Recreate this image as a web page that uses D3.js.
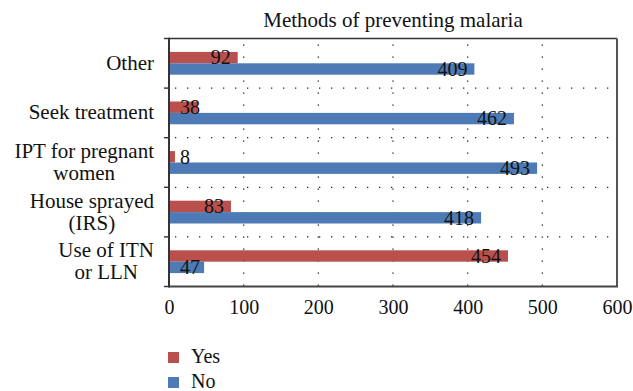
<!DOCTYPE html>
<html>
<head>
<meta charset="utf-8">
<script src="https://cdn.jsdelivr.net/npm/d3@7"></script>
<style>
  html, body { margin: 0; padding: 0; background: #fff; }
  svg { display: block; }
  text { font-family: "Liberation Serif", "Times New Roman", serif; fill: #111; }
</style>
</head>
<body>
<svg id="chart" width="633" height="391"></svg>
<script>
// Survey responses per prevention method
const categories = ["Other", "Seek treatment", "IPT for pregnant\nwomen", "House sprayed\n(IRS)", "Use of ITN\nor LLN"];
const yesValues = [92, 38, 8, 83, 454];
const noValues = [409, 462, 493, 418, 47];
const seriesNames = ["Yes", "No"];
const xTicks = [0, 100, 200, 300, 400, 500, 600];
const chartTitle = "Methods of preventing malaria";

const colors = { Yes: "#b9504d", No: "#4e7bb5" };
const width = 633, height = 391;
const margin = { top: 38.5, right: 16, bottom: 104.5, left: 169 };

const svg = d3.select("#chart");

const x = d3.scaleLinear()
  .domain([0, 600])
  .range([margin.left, width - margin.right]);

const y = d3.scaleBand()
  .domain(categories)
  .range([margin.top, height - margin.bottom])
  .paddingInner(0).paddingOuter(0);

const barH = 11.4;
const inner = d3.scaleBand()
  .domain(seriesNames)
  .range([0, barH * 2]);

const x0 = x.range()[0], x1 = x.range()[1];
const y0 = y.range()[0], y1 = y.range()[1];

// dotted grid: vertical at value ticks, horizontal at category boundaries
const grid = svg.append("g")
  .attr("stroke", "#222")
  .attr("stroke-width", 1.3)
  .attr("stroke-dasharray", "1.3 10.7");

grid.selectAll("line.v")
  .data(xTicks.filter(t => t > 0 && t < 600))
  .join("line")
  .attr("class", "v")
  .attr("x1", d => x(d)).attr("x2", d => x(d))
  .attr("y1", y0 + 6).attr("y2", y1);

const boundaries = categories.slice(1).map(c => y(c));
grid.selectAll("line.h")
  .data(boundaries)
  .join("line")
  .attr("class", "h")
  .attr("x1", x0 + 6).attr("x2", x1)
  .attr("y1", d => d).attr("y2", d => d);

// bars
const rows = categories.map((c, i) => ({ cat: c, Yes: yesValues[i], No: noValues[i] }));
const bandOffset = (y.bandwidth() - barH * 2) / 2;

const barGroups = svg.append("g")
  .selectAll("g")
  .data(rows)
  .join("g")
  .attr("transform", d => `translate(0,${y(d.cat) + bandOffset})`);

barGroups.selectAll("rect")
  .data(d => seriesNames.map(s => ({ series: s, value: d[s] })))
  .join("rect")
  .attr("x", x(0))
  .attr("y", d => inner(d.series))
  .attr("width", d => x(d.value) - x(0))
  .attr("height", inner.bandwidth())
  .attr("fill", d => colors[d.series]);

// value labels, right-aligned inside the bar end, kept clear of the axis
barGroups.selectAll("text")
  .data(d => seriesNames.map(s => ({ series: s, value: d[s] })))
  .join("text")
  .attr("font-size", 20)
  .attr("y", d => inner(d.series) + inner.bandwidth() / 2)
  .attr("dy", "0.34em")
  .text(d => d.value)
  .each(function (d) {
    const w = this.getComputedTextLength();
    const start = Math.max(x(d.value) - 7 - w, x0 + 11);
    d3.select(this).attr("x", start);
  });

// frame: left and bottom axes heavier, top and right thinner
svg.append("line")
  .attr("x1", x0).attr("x2", x1).attr("y1", y0).attr("y2", y0)
  .attr("stroke", "#333").attr("stroke-width", 1.4);
svg.append("line")
  .attr("x1", x1).attr("x2", x1).attr("y1", y0).attr("y2", y1)
  .attr("stroke", "#555").attr("stroke-width", 2);
svg.append("line")
  .attr("x1", x0).attr("x2", x1 + 1).attr("y1", y1).attr("y2", y1)
  .attr("stroke", "#444").attr("stroke-width", 2);
svg.append("line")
  .attr("x1", x0).attr("x2", x0).attr("y1", y0 - 0.7).attr("y2", y1 + 1)
  .attr("stroke", "#333").attr("stroke-width", 2);

// small outward ticks at category boundaries on the left axis
svg.append("g")
  .selectAll("line")
  .data([y0, ...boundaries, y1])
  .join("line")
  .attr("x1", x0 - 5).attr("x2", x0)
  .attr("y1", d => d).attr("y2", d => d)
  .attr("stroke", "#333").attr("stroke-width", 1.4);

// x axis labels
const xAxis = d3.axisBottom(x).tickValues(xTicks).tickSize(0).tickPadding(13).tickFormat(d3.format("d"));
const gx = svg.append("g")
  .attr("transform", `translate(0,${y1})`)
  .call(xAxis);
gx.select(".domain").remove();
gx.selectAll("text")
  .attr("font-family", "Liberation Serif")
  .attr("font-size", 20)
  .attr("fill", "#111");

// category labels: multi-line blocks, lines centred, block right-aligned
const labelRight = x0 - 15;
const lineH = 22;
svg.append("g")
  .selectAll("text")
  .data(categories)
  .join("text")
  .attr("font-size", 21)
  .each(function (c) {
    const t = d3.select(this);
    const lines = c.split("\n");
    const cy = y(c) + y.bandwidth() / 2;
    const firstBase = cy + 6.5 - (lines.length - 1) * lineH / 2;
    const spans = lines.map((ln, i) => t.append("tspan")
      .attr("y", firstBase + i * lineH)
      .text(ln));
    const maxW = d3.max(spans, s => s.node().getComputedTextLength());
    spans.forEach(s => s.attr("x", labelRight - maxW / 2).attr("text-anchor", "middle"));
  });

// title
svg.append("text")
  .attr("x", (x0 + x1) / 2)
  .attr("y", 27)
  .attr("text-anchor", "middle")
  .attr("font-size", 21)
  .text(chartTitle);

// legend
const legend = svg.append("g")
  .selectAll("g")
  .data(seriesNames)
  .join("g")
  .attr("transform", (d, i) => `translate(168,${352 + i * 25})`);
legend.append("rect")
  .attr("width", 11).attr("height", 11)
  .attr("fill", d => colors[d]);
legend.append("text")
  .attr("x", 23).attr("y", 11)
  .attr("font-size", 20)
  .text(d => d);
</script>
</body>
</html>
